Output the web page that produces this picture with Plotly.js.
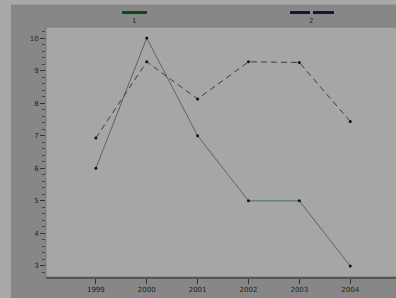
<!DOCTYPE html>
<html><head><meta charset="utf-8">
<script src="https://cdn.plot.ly/plotly-3.0.1.min.js"></script>
<style>html,body{margin:0;padding:0;background:#a9a9a9;}#chart{width:396px;height:298px;}</style>
</head><body><div id="chart"></div>
<script>
var years = [1999, 2000, 2001, 2002, 2003, 2004];
var series1 = [6, 10, 7, 5, 5, 3];
var series2 = [6.93, 9.27, 8.13, 9.27, 9.25, 7.44];
var seriesNames = ['1', '2'];

var traces = [
  {x: years, y: series1, name: seriesNames[0], type: 'scatter', mode: 'lines+markers',
   line: {color: '#4c704c', width: 1}, marker: {color: '#111', size: 3}, showlegend: false},
  {x: years, y: series2, name: seriesNames[1], type: 'scatter', mode: 'lines+markers',
   line: {color: '#3e3e3e', width: 1, dash: '6px,4px'}, marker: {color: '#111', size: 3}, showlegend: false}
];

var W = 350, H = 250;
function px(x){ return (x - 46) / W; }
function py(y){ return 1 + (27 - y) / H; }

var layout = {
  width: 396, height: 298,
  margin: {l: 46, r: 0, t: 27, b: 21, pad: 0},
  paper_bgcolor: '#a9a9a9',
  plot_bgcolor: '#a6a6a6',
  font: {family: 'DejaVu Sans, sans-serif', size: 7, color: '#1e1e1e'},
  xaxis: {
    range: [1998.02, 2004.9], tickvals: years, ticktext: years.map(String),
    showgrid: false, zeroline: false, showline: true, linecolor: '#555', linewidth: 2,
    ticks: 'outside', ticklen: 5, tickcolor: '#333', tickwidth: 1,
    tickfont: {size: 7, color: '#1e1e1e'}
  },
  yaxis: {
    range: [2.66, 10.34], dtick: 1, tick0: 0,
    showgrid: false, zeroline: false, showline: false,
    ticks: 'outside', ticklen: 5, tickcolor: '#333', tickwidth: 1,
    minor: {dtick: 0.2, ticks: 'outside', ticklen: 3, tickcolor: '#444', tickwidth: 1},
    tickfont: {size: 7, color: '#1e1e1e'}
  },
  shapes: [
    {type: 'rect', xref: 'paper', yref: 'paper', x0: px(11), x1: px(400), y0: py(300), y1: py(4),
     fillcolor: '#878787', line: {width: 0}, layer: 'below'},
    {type: 'line', xref: 'paper', yref: 'paper', x0: px(11), x1: px(396), y0: py(4.5), y1: py(4.5),
     line: {color: '#999', width: 1}, layer: 'below'},
    {type: 'rect', xref: 'paper', yref: 'paper', x0: 0, x1: 1.01, y0: 0, y1: 1,
     fillcolor: '#a6a6a6', line: {color: '#7a7a7a', width: 1}, layer: 'below'},
    {type: 'line', xref: 'paper', yref: 'paper', x0: px(122), x1: px(147), y0: py(12.5), y1: py(12.5),
     line: {color: '#0f4a12', width: 3}},
    {type: 'line', xref: 'paper', yref: 'paper', x0: px(290), x1: px(310), y0: py(12.5), y1: py(12.5),
     line: {color: '#121544', width: 3}},
    {type: 'line', xref: 'paper', yref: 'paper', x0: px(313), x1: px(334), y0: py(12.5), y1: py(12.5),
     line: {color: '#121544', width: 3}}
  ],
  annotations: [
    {xref: 'paper', yref: 'paper', x: px(134), y: py(21.5), text: seriesNames[0], showarrow: false,
     font: {size: 7, color: '#2a2a2a'}, xanchor: 'center', yanchor: 'middle'},
    {xref: 'paper', yref: 'paper', x: px(311), y: py(21.5), text: seriesNames[1], showarrow: false,
     font: {size: 7, color: '#2a2a2a'}, xanchor: 'center', yanchor: 'middle'}
  ]
};

Plotly.newPlot('chart', traces, layout, {displayModeBar: false, staticPlot: true});
</script>
</body></html>
